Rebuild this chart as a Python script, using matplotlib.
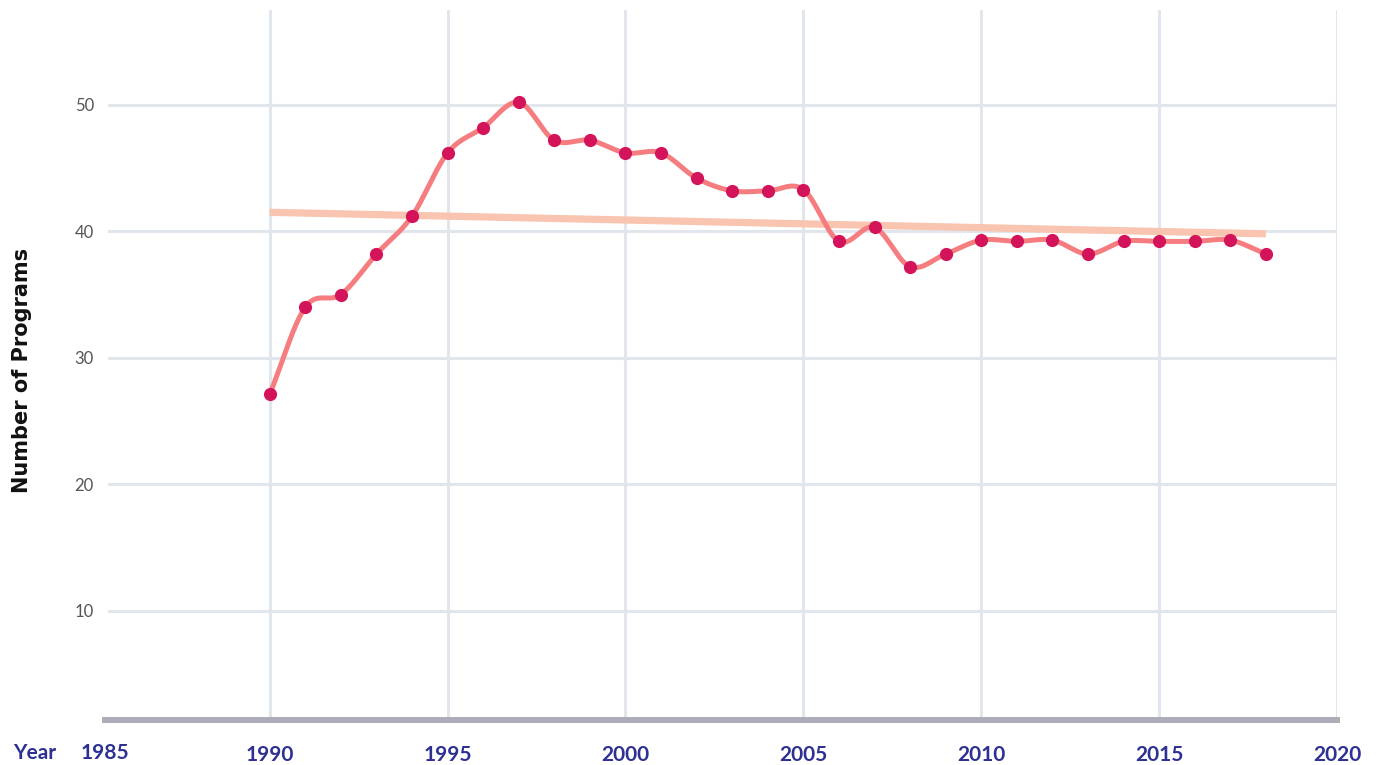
import numpy as np
import matplotlib
matplotlib.use("Agg")
import matplotlib.pyplot as plt

# Data
years = np.arange(1990, 2019)
programs = [27.1, 34.0, 35.0, 38.2, 41.2, 46.2, 48.2, 50.2, 47.2, 47.2,
            46.2, 46.2, 44.2, 43.2, 43.2, 43.3, 39.2, 40.3, 37.2, 38.2,
            39.3, 39.2, 39.3, 38.2, 39.2, 39.2, 39.2, 39.3, 38.2]
trend_years = [1990, 2018]
trend_values = [41.5, 39.8]
tick_years = [1990, 1995, 2000, 2005, 2010, 2015, 2020]
y_ticks = [10, 20, 30, 40, 50]

NAVY = "#2e3192"
GRID = "#e1e5ec"


def smooth(x, y, steps=30):
    # Catmull-Rom style cubic hermite through the points (for drawing the line only)
    x = np.asarray(x, float)
    y = np.asarray(y, float)
    m = np.gradient(y, x)
    xs, ys = [], []
    for i in range(len(x) - 1):
        h = x[i + 1] - x[i]
        t = np.linspace(0, 1, steps, endpoint=False)
        h00 = 2 * t**3 - 3 * t**2 + 1
        h10 = t**3 - 2 * t**2 + t
        h01 = -2 * t**3 + 3 * t**2
        h11 = t**3 - t**2
        xs.append(x[i] + t * h)
        ys.append(h00 * y[i] + h10 * h * m[i] + h01 * y[i + 1] + h11 * h * m[i + 1])
    xs.append([x[-1]])
    ys.append([y[-1]])
    return np.concatenate(xs), np.concatenate(ys)


fig = plt.figure(figsize=(13.77, 7.65), dpi=100)
ax = fig.add_axes([105 / 1377, 1 - 720 / 765, (1337 - 105) / 1377, (720 - 10) / 765])

x0 = 1985.37
ax.set_xlim(x0, 2020)
ax.set_ylim(1.35, 57.5)

# grid
for yr in tick_years:
    ax.axvline(yr, color=GRID, lw=2.2, zorder=0)
for v in y_ticks:
    ax.axhline(v, xmin=0.003, color=GRID, lw=2.2, zorder=0)

# trend line
ax.plot(trend_years, trend_values, color="#f9c4b0", lw=5.2, solid_capstyle="butt", zorder=2)

# smoothed series
sx, sy = smooth(years, programs)
ax.plot(sx, sy, color="#f57d80", lw=3.6, zorder=3)
ax.plot(years, programs, "o", color="#d4145a", ms=9.5, mec="none", zorder=4)

# axes styling
for s in ["top", "right", "left"]:
    ax.spines[s].set_visible(False)
ax.spines["bottom"].set_color("#adadb9")
ax.spines["bottom"].set_linewidth(4.3)

ax.set_yticks(y_ticks)
ax.set_yticklabels([str(v) for v in y_ticks], fontsize=12, color="#555555",
                   fontfamily="Lato")
ax.tick_params(axis="y", length=0, pad=8)

ax.set_xticks(tick_years)
ax.set_xticklabels([str(v) for v in tick_years], fontsize=15, color=NAVY,
                   fontweight="bold", fontfamily="Lato")
ax.tick_params(axis="x", length=0, pad=18)

fig.text(105 / 1377, 1 - 753 / 765, "1985", ha="center", va="center",
         fontsize=15, color=NAVY, fontweight="bold", fontfamily="Lato")
fig.text(13 / 1377, 1 - 753 / 765, "Year", ha="left", va="center",
         fontsize=15, color=NAVY, fontweight="bold", fontfamily="Lato")

fig.text(22 / 1377, 1 - 370 / 765, "Number of Programs", rotation=90, ha="center", va="center",
         fontsize=15, color="#111111", fontweight="bold",
         fontfamily=["Liberation Sans Narrow", "DejaVu Sans"])

fig.savefig("out.png", dpi=100)
